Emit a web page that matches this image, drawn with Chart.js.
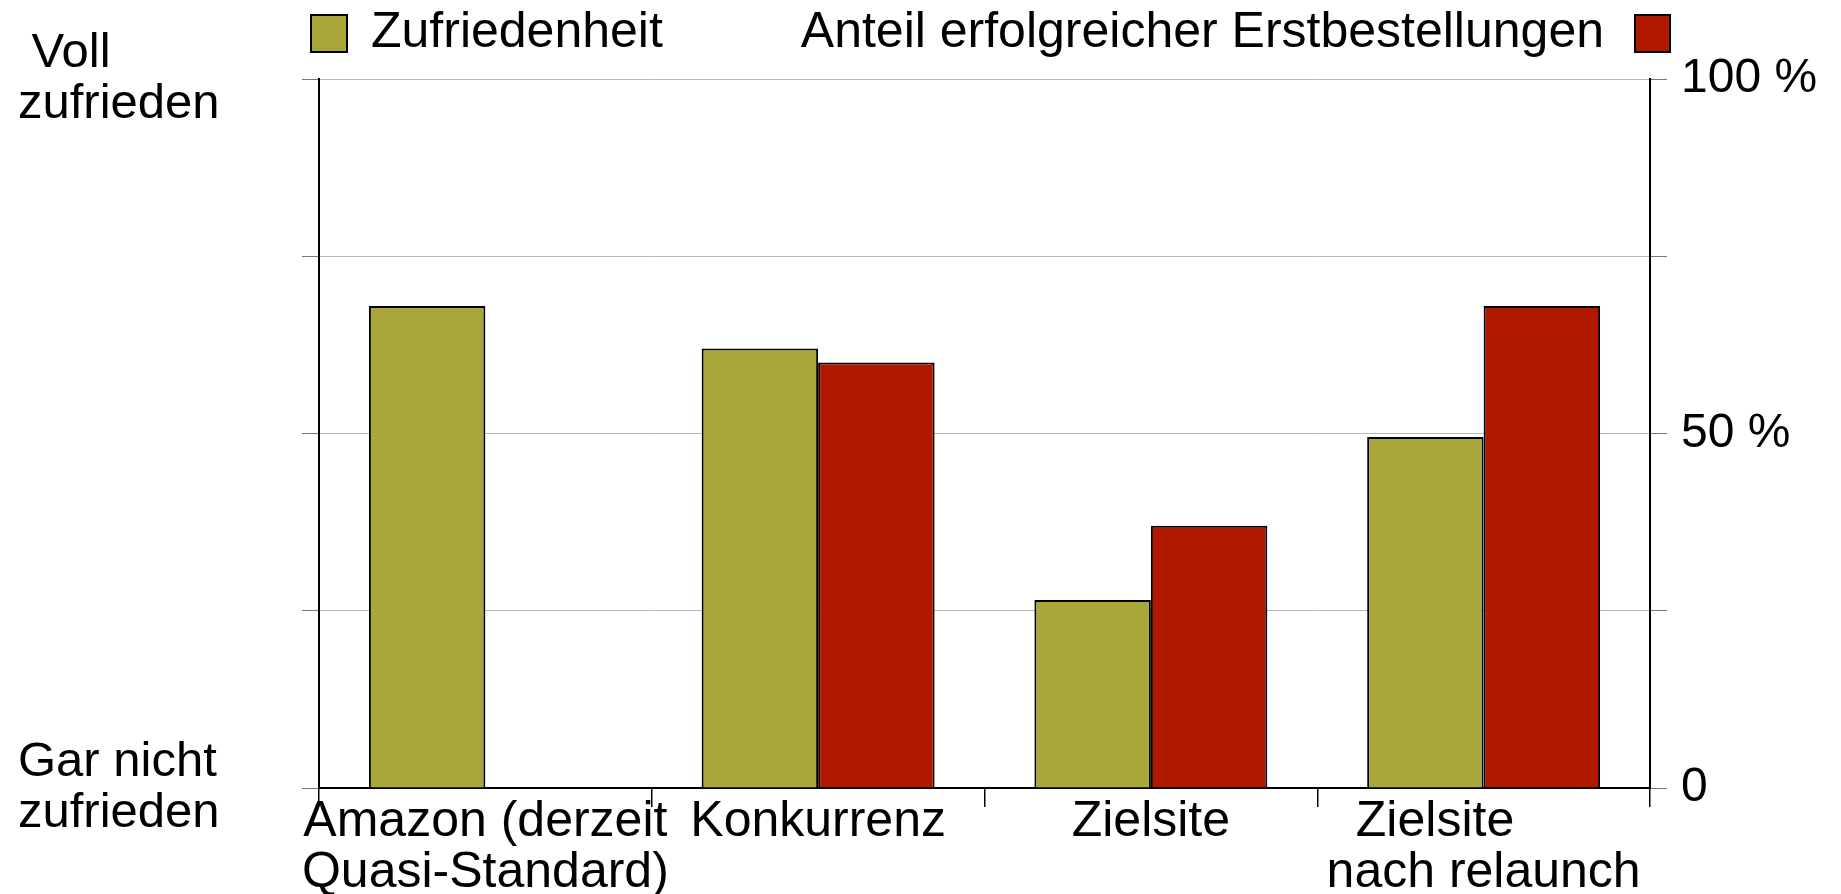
<!DOCTYPE html>
<html>
<head>
<meta charset="utf-8">
<script src="https://cdn.jsdelivr.net/npm/chart.js@4/dist/chart.umd.min.js"></script>
<style>
  html, body { margin: 0; padding: 0; background: #fff; }
  #wrap { width: 1841px; height: 894px; position: relative; }
</style>
</head>
<body>
<div id="wrap"><canvas id="chart"></canvas></div>
<script>
// Daten
const categories = [
  ['Amazon (derzeit', 'Quasi-Standard)'],
  'Konkurrenz',
  'Zielsite',
  ['Zielsite       ', 'nach relaunch']
];
const seriesNames = ['Zufriedenheit', 'Anteil erfolgreicher Erstbestellungen'];
const zufriedenheit = [68, 62, 26.5, 49.5];
const erstbestellungen = [null, 60, 37, 68];
const leftTickLabels = { 100: [' Voll', 'zufrieden'], 0: ['Gar nicht', 'zufrieden'] };
const rightTickLabels = { 100: '100 %', 50: '50 %', 0: '0' };

const GREEN = '#a9a73a';
const RED = '#b21800';
const FONT = "'Liberation Sans', Arial, Helvetica, sans-serif";

// Legende: links Kasten + Text, rechts Text + Kasten
const legendPlugin = {
  id: 'splitLegend',
  afterDraw(chart) {
    const ctx = chart.ctx;
    const ds = chart.data.datasets;
    ctx.save();
    ctx.font = '50px ' + FONT;
    ctx.textBaseline = 'middle';
    ctx.lineWidth = 2;
    ctx.strokeStyle = '#000';

    ctx.fillStyle = ds[0].backgroundColor;
    ctx.fillRect(311, 15, 36, 37);
    ctx.strokeRect(311, 15, 36, 37);
    ctx.fillStyle = '#000';
    ctx.textAlign = 'left';
    ctx.fillText(ds[0].label, 371, 33);

    ctx.fillStyle = ds[1].backgroundColor;
    ctx.fillRect(1635, 15, 35, 37);
    ctx.strokeRect(1635, 15, 35, 37);
    ctx.fillStyle = '#000';
    ctx.textAlign = 'right';
    ctx.fillText(ds[1].label, 1604, 33);
    ctx.restore();
  }
};

new Chart(document.getElementById('chart'), {
  type: 'bar',
  data: {
    labels: categories,
    datasets: [
      {
        label: seriesNames[0],
        data: zufriedenheit,
        yAxisID: 'y',
        backgroundColor: GREEN,
        borderColor: '#000',
        borderWidth: 2,
        categoryPercentage: 0.7,
        barPercentage: 1.0
      },
      {
        label: seriesNames[1],
        data: erstbestellungen,
        yAxisID: 'y1',
        backgroundColor: RED,
        borderColor: '#000',
        borderWidth: 2,
        categoryPercentage: 0.7,
        barPercentage: 1.0
      }
    ]
  },
  options: {
    responsive: true,
    maintainAspectRatio: false,
    animation: false,
    layout: { padding: { top: 79, left: 18, right: 0, bottom: 0 } },
    plugins: {
      legend: { display: false },
      tooltip: { enabled: false }
    },
    scales: {
      x: {
        offset: true,
        grid: {
          offset: true,
          drawOnChartArea: false,
          drawTicks: true,
          tickLength: 19,
          tickColor: '#000',
          lineWidth: 1.5
        },
        border: { color: '#000', width: 2 },
        ticks: {
          color: '#000',
          padding: -10,
          maxRotation: 0,
          autoSkip: false,
          font: { family: FONT, size: 50, lineHeight: 1.02 }
        },
        afterFit: (s) => { s.height = 106; }
      },
      y: {
        position: 'left',
        min: 0,
        max: 100,
        grid: {
          color: '#b8b8b8',
          tickColor: '#777',
          tickLength: 17,
          lineWidth: 1
        },
        border: { color: '#000', width: 2 },
        ticks: {
          stepSize: 25,
          crossAlign: 'far',
          color: '#000',
          font: { family: FONT, size: 49, lineHeight: 1.06 },
          callback: (v) => leftTickLabels[v] || ''
        },
        afterFit: (s) => { s.width = 301; }
      },
      y1: {
        position: 'right',
        min: 0,
        max: 100,
        grid: {
          drawOnChartArea: false,
          tickColor: '#777',
          tickLength: 17
        },
        border: { color: '#000', width: 2 },
        ticks: {
          stepSize: 25,
          padding: 14,
          color: '#000',
          font: { family: FONT, size: 48 },
          callback: (v) => rightTickLabels[v] || ''
        },
        afterFit: (s) => { s.width = 191; }
      }
    }
  },
  plugins: [legendPlugin]
});
</script>
</body>
</html>
